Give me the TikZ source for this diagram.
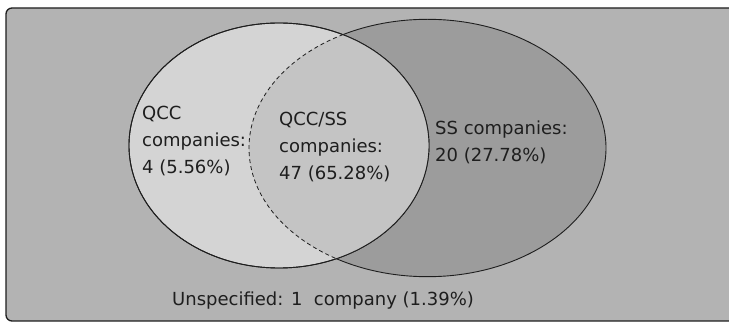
\documentclass[tikz,border=0pt]{standalone}
\usepackage{fontspec}
\setmainfont{DejaVu Sans}
\definecolor{panelgray}{HTML}{B3B3B3}
\definecolor{qccgray}{HTML}{D4D4D4}
\definecolor{bothgray}{HTML}{C4C4C4}
\definecolor{ssgray}{HTML}{9C9C9C}
\definecolor{inkgray}{HTML}{1E1E1E}
% fixed first-line height so the top anchor sits a known distance above the baseline
\newcommand{\firstline}{\rule{0pt}{14pt}}
\begin{document}
\begin{tikzpicture}[x=1pt,y=-1pt,
  outline/.style={draw=inkgray,line width=0.9pt},
  label/.style={inner sep=0pt,anchor=north west,align=left,text=inkgray,
    font=\fontsize{18}{27}\selectfont}]
\useasboundingbox (0,0) rectangle (729,323);
\clip (0,0) rectangle (729,323);
\fill[white] (0,0) rectangle (729,323);
% panel behind the diagram
\path[fill=panelgray,draw=inkgray,line width=1.3pt,rounded corners=6pt]
  (760,8) -- (6,8) -- (6,321) -- (760,321) -- cycle;
% SS set
\path[fill=ssgray,outline] (427.5,148) ellipse [x radius=178.5pt,y radius=128.7pt];
% QCC set
\path[fill=qccgray,outline] (279,145.5) ellipse [x radius=150pt,y radius=122.5pt];
% overlap of both sets
\begin{scope}
  \clip (279,145.5) ellipse [x radius=150pt,y radius=122.5pt];
  \fill[bothgray] (427.5,148) ellipse [x radius=178.5pt,y radius=128.7pt];
  \draw[draw=inkgray,line width=0.8pt,dash pattern=on 4pt off 3pt]
    (427.5,148) ellipse [x radius=178.5pt,y radius=128.7pt];
\end{scope}
\draw[outline] (279,145.5) ellipse [x radius=150pt,y radius=122.5pt];
% labels (positions are first-line baseline minus 14pt)
\node[label] (qcc) at (142,105) {\firstline QCC\\companies:\\4 (5.56\%)};
\node[label] (both) at (279,111) {\firstline QCC/SS\\companies:\\47 (65.28\%)};
\node[label] (ss) at (435,120) {\firstline SS companies:\\20 (27.78\%)};
\node[label] (none) at (172,291) {\firstline Unspecified: 1\ \ company (1.39\%)};
\end{tikzpicture}
\end{document}
